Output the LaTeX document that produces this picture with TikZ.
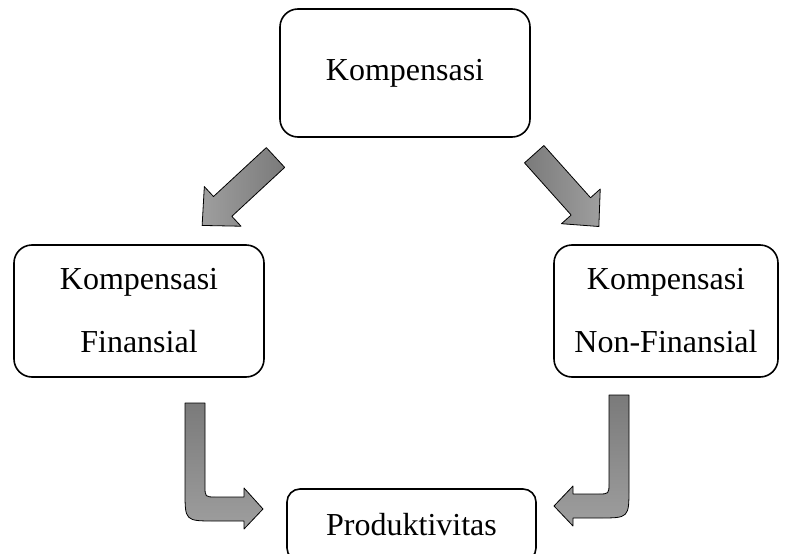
\documentclass[tikz,border=0pt]{standalone}
\usepackage{fontspec}
\setmainfont{Liberation Serif}
\usepackage{tikz}
\definecolor{arrowdark}{rgb}{0.48, 0.48, 0.48}
\definecolor{arrowlight}{rgb}{0.62, 0.62, 0.62}

\begin{document}
\begin{tikzpicture}[x=1pt,y=-1pt,
        kotak/.style={draw, line width=1.6pt, rounded corners=18pt, align=center,
            font=\fontsize{32}{63}\selectfont},
        panah/.style={draw=black, line width=0.8pt, line join=round}
    ]
        \useasboundingbox (0,0) rectangle (790,554);
        \clip (0,0) rectangle (790,554);

        % kotak
        \node[kotak, text depth=0.55em, minimum width=250pt, minimum height=128pt] (komp) at (405,73) {Kompensasi};
        \node[kotak, minimum width=250pt, minimum height=132pt] (fin) at (139,311) {Kompensasi\\Finansial};
        \node[kotak, minimum width=224pt, minimum height=132pt] (nonfin) at (666,311) {Kompensasi\\Non-Finansial};
        \node[kotak, rounded corners=13pt, minimum width=249pt, minimum height=72pt] (prod) at (411.5,525) {Produktivitas};

        % panah miring
        \begin{scope}[shift={(275.5,157.5)}, rotate=222.8]
            \draw[panah, left color=arrowlight, right color=arrowdark]
                (0,-13.5) -- (72,-13.5) -- (72,-27) -- (100,0) -- (72,27) -- (72,13.5) -- (0,13.5) -- cycle;
        \end{scope}
        \begin{scope}[shift={(534.2,154.2)}, rotate=-48.2]
            \draw[panah, left color=arrowdark, right color=arrowlight]
                (0,-13) -- (70,-13) -- (70,-26) -- (97,0) -- (70,26) -- (70,13) -- (0,13) -- cycle;
        \end{scope}

        % panah belok
        \draw[panah, top color=arrowdark, bottom color=arrowlight]
            (185,403) -- (205,403) -- (205,486) .. controls (205,497) .. (216,497)
            -- (244,497) -- (244,488) -- (263,509) -- (244,529) -- (244,521)
            -- (215,521) .. controls (185,521) .. (185,491) -- cycle;
        \draw[panah, top color=arrowdark, bottom color=arrowlight]
            (629,395) -- (609,395) -- (609,483) .. controls (609,494) .. (598,494)
            -- (573,494) -- (573,486) -- (554,506) -- (573,526) -- (573,518)
            -- (599,518) .. controls (629,518) .. (629,488) -- cycle;
    \end{tikzpicture}
\end{document}
